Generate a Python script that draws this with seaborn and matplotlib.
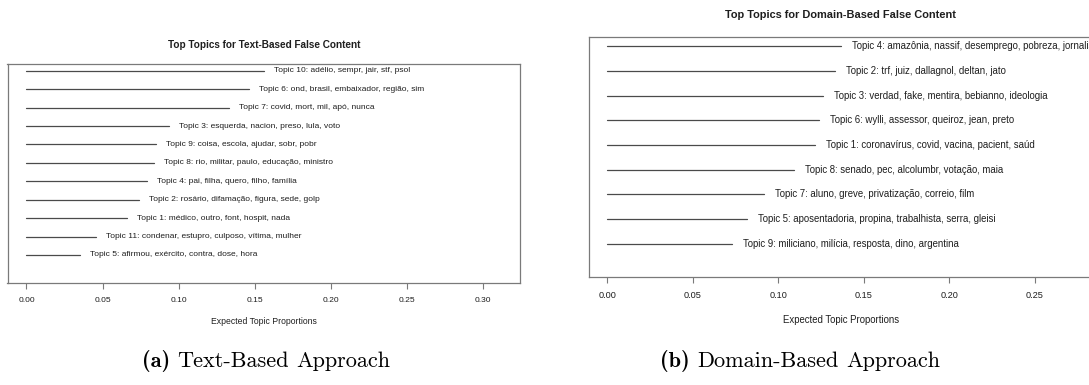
import matplotlib
matplotlib.use("Agg")
import matplotlib.pyplot as plt
import seaborn as sns
import pandas as pd

# Expected topic proportions, listed top to bottom as they appear in each panel
text_labels = [
    "Topic 10: adélio, sempr, jair, stf, psol",
    "Topic 6: ond, brasil, embaixador, região, sim",
    "Topic 7: covid, mort, mil, apó, nunca",
    "Topic 3: esquerda, nacion, preso, lula, voto",
    "Topic 9: coisa, escola, ajudar, sobr, pobr",
    "Topic 8: rio, militar, paulo, educação, ministro",
    "Topic 4: pai, filha, quero, filho, família",
    "Topic 2: rosário, difamação, figura, sede, golp",
    "Topic 1: médico, outro, font, hospit, nada",
    "Topic 11: condenar, estupro, culposo, vítima, mulher",
    "Topic 5: afirmou, exército, contra, dose, hora",
]
text_props = [0.156, 0.146, 0.133, 0.094, 0.085, 0.084, 0.079, 0.074, 0.066, 0.046, 0.035]

domain_labels = [
    "Topic 4: amazônia, nassif, desemprego, pobreza, jornalista",
    "Topic 2: trf, juiz, dallagnol, deltan, jato",
    "Topic 3: verdad, fake, mentira, bebianno, ideologia",
    "Topic 6: wylli, assessor, queiroz, jean, preto",
    "Topic 1: coronavírus, covid, vacina, pacient, saúd",
    "Topic 8: senado, pec, alcolumbr, votação, maia",
    "Topic 7: aluno, greve, privatização, correio, film",
    "Topic 5: aposentadoria, propina, trabalhista, serra, gleisi",
    "Topic 9: miliciano, milícia, resposta, dino, argentina",
]
domain_props = [0.1366, 0.1333, 0.1264, 0.1235, 0.1216, 0.1089, 0.0914, 0.0817, 0.0730]

tick_values = [0.00, 0.05, 0.10, 0.15, 0.20, 0.25, 0.30]
tick_labels = ["0.00", "0.05", "0.10", "0.15", "0.20", "0.25", "0.30"]

text_title = "Top Topics for Text-Based False Content"
domain_title = "Top Topics for Domain-Based False Content"
x_title = "Expected Topic Proportions"

sns.set_theme(style="white")
plt.rcParams["font.family"] = ["Liberation Sans", "DejaVu Sans"]

W, H = 1089, 385
fig = plt.figure(figsize=(W / 100, H / 100), dpi=100)
fig.patch.set_facecolor("white")

LINE = "#4a4a4a"
BOX = "#7a7a7a"
INK = "#1e1e1e"


def px_axes(left, right, top, bottom):
    return fig.add_axes([left / W, 1 - bottom / H, (right - left) / W, (bottom - top) / H])


def topic_panel(ax, labels, props, ylim, title, fs_text, fs_tick, fs_title,
                fs_xlab, title_y, xlab_y, gap_px):
    k = len(labels)
    ypos = list(range(k, 0, -1))
    rows = []
    for lab, p, y in zip(labels, props, ypos):
        rows.append({"topic": lab, "x": 0.0, "y": y})
        rows.append({"topic": lab, "x": p, "y": y})
    df = pd.DataFrame(rows)
    sns.lineplot(data=df, x="x", y="y", units="topic", estimator=None, sort=False,
                 color=LINE, linewidth=0.9, ax=ax, legend=False)
    for lab, p, y in zip(labels, props, ypos):
        ax.annotate(lab, xy=(p, y), xytext=(gap_px, 0), textcoords="offset pixels",
                    ha="left", va="center", fontsize=fs_text, color=INK,
                    annotation_clip=False)
    xmax = 2 * max(props)
    ax.set_xlim(-0.04 * xmax, xmax * 1.04)
    ax.set_ylim(*ylim)
    ticks = [t for t in tick_values if t <= xmax + 1e-9]
    ax.set_xticks(ticks)
    ax.set_xticklabels(tick_labels[:len(ticks)])
    ax.set_yticks([])
    ax.set_ylabel("")
    ax.tick_params(axis="x", bottom=True, direction="out", length=4, width=0.8,
                   color=BOX, labelsize=fs_tick, labelcolor=INK, pad=6)
    for s in ax.spines.values():
        s.set_visible(True)
        s.set_color(BOX)
        s.set_linewidth(0.9)
    ax.set_title(title, fontsize=fs_title, fontweight="bold", color=INK,
                 y=title_y, va="center", pad=0)
    ax.set_xlabel(x_title, fontsize=fs_xlab, color=INK, va="center")
    ax.xaxis.set_label_coords(0.5, xlab_y)
    ax.set_facecolor("white")


ax1 = px_axes(7.5, 520, 64.3, 283)
topic_panel(ax1, text_labels, text_props, (-0.52, 11.35), text_title,
            fs_text=6.0, fs_tick=6.1, fs_title=7.2, fs_xlab=6.2,
            title_y=1 + (64.3 - 44.5) / 218.7, xlab_y=-(321.7 - 283) / 218.7,
            gap_px=10)

ax2 = px_axes(588.5, 1093.4, 37.3, 277.4)
topic_panel(ax2, domain_labels, domain_props, (-0.36, 9.36), domain_title,
            fs_text=6.9, fs_tick=6.6, fs_title=7.9, fs_xlab=6.9,
            title_y=1 + (37.3 - 14.5) / 240.1, xlab_y=-(320 - 277.4) / 240.1,
            gap_px=11)

# Subfigure captions: bold tag followed by roman text
renderer = fig.canvas.get_renderer()


def caption(xc, baseline, tag, body, size):
    t1 = fig.text(0, 1 - baseline / H, tag, fontfamily="cmb10", fontsize=size,
                  va="baseline", ha="left", color="black")
    words = body.split(" ")
    parts = [fig.text(0, 1 - baseline / H, w, fontfamily="cmr10", fontsize=size,
                      va="baseline", ha="left", color="black") for w in words]
    space = 0.333 * size * 100 / 72
    widths = [t1.get_window_extent(renderer).width] + \
             [p.get_window_extent(renderer).width for p in parts]
    total = sum(widths) + space * len(parts)
    x = xc - total / 2
    t1.set_x(x / W)
    x += widths[0] + space
    for p, w in zip(parts, widths[1:]):
        p.set_x(x / W)
        x += w + space


caption(266, 367, "(a)", "Text-Based Approach", 16)
caption(800, 367, "(b)", "Domain-Based Approach", 16)

fig.savefig("out.png", dpi=100, facecolor="white")
